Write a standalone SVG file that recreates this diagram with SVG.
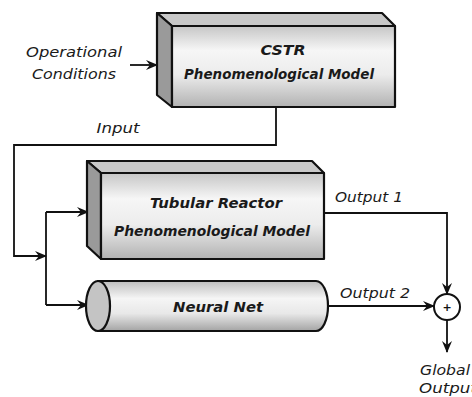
<svg xmlns="http://www.w3.org/2000/svg" width="472" height="397" viewBox="0 0 472 397">
<defs>
<linearGradient id="front" x1="0" y1="0" x2="0" y2="1">
<stop offset="0" stop-color="#c6c6c6"/>
<stop offset="0.3" stop-color="#f6f6f6"/>
<stop offset="0.6" stop-color="#ececec"/>
<stop offset="1" stop-color="#b2b2b2"/>
</linearGradient>
<linearGradient id="cyl" x1="0" y1="0" x2="0" y2="1">
<stop offset="0" stop-color="#bdbdbd"/>
<stop offset="0.35" stop-color="#f5f5f5"/>
<stop offset="0.65" stop-color="#e8e8e8"/>
<stop offset="1" stop-color="#a4a4a4"/>
</linearGradient>
<marker id="arr" viewBox="0 0 12 10" refX="11" refY="5" markerWidth="12" markerHeight="10" markerUnits="userSpaceOnUse" orient="auto">
<path d="M0,0 L12,5 L0,10 L4,5 Z" fill="#111"/>
</marker>
</defs>
<style>
.edge{fill:none;stroke:#111;stroke-width:1.8}
.out{stroke:#111;stroke-width:2.2;stroke-linejoin:round}
.side{fill:#9a9a9a}
.top{fill:#c8c8c8}
.lbl{font-family:"DejaVu Sans",sans-serif;font-style:oblique;font-size:14px;fill:#1a1a1a}
.blbl{font-family:"DejaVu Sans",sans-serif;font-style:oblique;font-weight:bold;font-size:14px;fill:#1a1a1a}
</style>
<g id="connectors">
<path class="edge" d="M130,65 L157,65" marker-end="url(#arr)"/>
<path class="edge" d="M276,107 L276,145 L14,145 L14,256 L46,256" marker-end="url(#arr)"/>
<path class="edge" d="M46,212 L46,305"/>
<path class="edge" d="M46,212 L88,212" marker-end="url(#arr)"/>
<path class="edge" d="M46,305 L88,305" marker-end="url(#arr)"/>
<path class="edge" d="M323,213 L447,213 L447,294" marker-end="url(#arr)"/>
<path class="edge" d="M328,306 L434,306" marker-end="url(#arr)"/>
<path class="edge" d="M447,320 L447,352" marker-end="url(#arr)"/>
</g>
<g id="cstr">
<polygon class="out top" points="157,13 382,13 395,26 172,26"/>
<polygon class="out side" points="157,13 172,26 172,107 157,95"/>
<rect class="out" x="172" y="26" width="223" height="81" fill="url(#front)"/>
<text class="blbl" x="283" y="55" text-anchor="middle" textLength="45" lengthAdjust="spacingAndGlyphs">CSTR</text>
<text class="blbl" x="279" y="79" text-anchor="middle" textLength="190" lengthAdjust="spacingAndGlyphs">Phenomenological Model</text>
</g>
<g id="tubular">
<polygon class="out top" points="87,161 312,161 324,173 101,173"/>
<polygon class="out side" points="87,161 101,173 101,259 87,246"/>
<rect class="out" x="101" y="173" width="223" height="86" fill="url(#front)"/>
<text class="blbl" x="216" y="208" text-anchor="middle" textLength="132" lengthAdjust="spacingAndGlyphs">Tubular Reactor</text>
<text class="blbl" x="212" y="236" text-anchor="middle" textLength="196" lengthAdjust="spacingAndGlyphs">Phenomenological Model</text>
</g>
<g id="neuralnet">
<path class="out" d="M98,281 L316,281 A12,25 0 0 1 316,331 L98,331 Z" fill="url(#cyl)"/>
<ellipse class="out" cx="98" cy="306" rx="12" ry="25" fill="#c4c4c4"/>
<text class="blbl" x="218" y="312" text-anchor="middle" textLength="90" lengthAdjust="spacingAndGlyphs">Neural Net</text>
</g>
<g id="sum">
<circle cx="447" cy="307" r="13" fill="#fff" stroke="#111" stroke-width="2"/>
<text x="447" y="311" text-anchor="middle" font-family="DejaVu Sans,sans-serif" font-size="11" font-weight="bold" fill="#111">+</text>
</g>
<g id="labels">
<text class="lbl" x="74" y="57" text-anchor="middle" textLength="96" lengthAdjust="spacingAndGlyphs">Operational</text>
<text class="lbl" x="74" y="79" text-anchor="middle" textLength="84" lengthAdjust="spacingAndGlyphs">Conditions</text>
<text class="lbl" x="118" y="133" text-anchor="middle" textLength="43" lengthAdjust="spacingAndGlyphs">Input</text>
<text class="lbl" x="369" y="202" text-anchor="middle" textLength="68" lengthAdjust="spacingAndGlyphs">Output 1</text>
<text class="lbl" x="375" y="298" text-anchor="middle" textLength="70" lengthAdjust="spacingAndGlyphs">Output 2</text>
<text class="lbl" x="445" y="375" text-anchor="middle" textLength="50" lengthAdjust="spacingAndGlyphs">Global</text>
<text class="lbl" x="448" y="393" text-anchor="middle" textLength="58" lengthAdjust="spacingAndGlyphs">Output</text>
</g>
</svg>
